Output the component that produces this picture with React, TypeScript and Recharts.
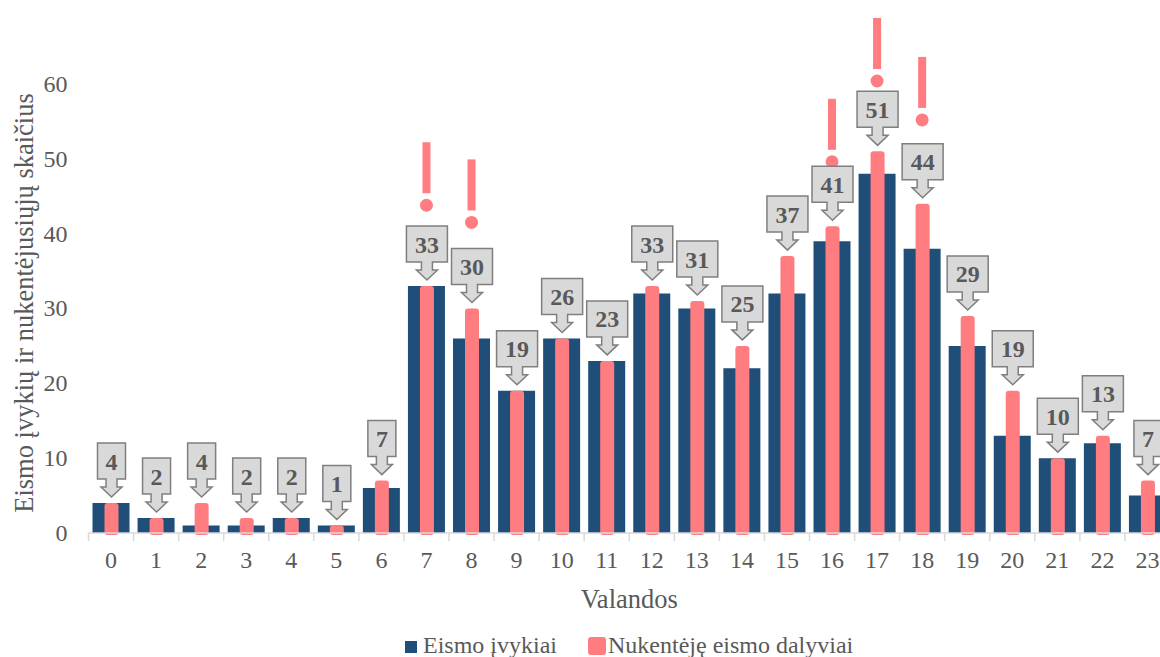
import React from 'react';
import { ComposedChart, Bar, Scatter, XAxis, YAxis, LabelList } from 'recharts';

const hours = ['0', '1', '2', '3', '4', '5', '6', '7', '8', '9', '10', '11', '12', '13', '14', '15', '16', '17', '18', '19', '20', '21', '22', '23'];
const accidents = [4, 2, 1, 1, 2, 1, 6, 33, 26, 19, 26, 23, 32, 30, 22, 32, 39, 48, 38, 25, 13, 10, 12, 5];
const injured = [4, 2, 4, 2, 2, 1, 7, 33, 30, 19, 26, 23, 33, 31, 25, 37, 41, 51, 44, 29, 19, 10, 13, 7];
// hours flagged with an exclamation mark, and the level (in axis units) of its dot
const alertHours = [7, 8, 16, 17, 18];
const alertLevels = [43.8, 41.5, 49.6, 60.4, 55.2];
const yTicks = [0, 10, 20, 30, 40, 50, 60];

const BLUE = '#1f4e79';
const PINK = '#ff7c80';
const GREY_TEXT = '#595959';
const FONT = '"Liberation Serif", "Times New Roman", serif';

const data = hours.map((h, i) => {
  const k = alertHours.indexOf(i);
  return {
    hour: h,
    accidents: accidents[i],
    injured: injured[i],
    alertLevel: k >= 0 ? alertLevels[k] : null,
  };
});

const PinkBar = (props: any) => {
  const { x, y, width, height } = props;
  if (height == null || isNaN(y)) return null;
  return <rect x={x} y={y} width={width} height={height + 2} rx={3} ry={3} fill={PINK} />;
};

const Callout = (props: any) => {
  const { x, y, width, value } = props;
  const cx = x + width / 2;
  const w = String(value).length > 1 ? 41 : 28;
  const tip = y - 6;
  const boxBottom = y - 24;
  const boxTop = boxBottom - 36;
  const shaftEnd = boxBottom + 8;
  const d = `M${cx - w / 2},${boxTop} H${cx + w / 2} V${boxBottom} H${cx + 5.5} V${shaftEnd} H${cx + 10.5} L${cx},${tip} L${cx - 10.5},${shaftEnd} H${cx - 5.5} V${boxBottom} H${cx - w / 2} Z`;
  return (
    <g>
      <path d={d} fill="#d9d9d9" stroke="#7f7f7f" strokeWidth={1.5} />
      <text x={cx} y={boxTop + 26.5} textAnchor="middle" style={{ fontFamily: FONT }} fontWeight="bold" fontSize={24} fill={GREY_TEXT}>
        {value}
      </text>
    </g>
  );
};

const Exclamation = (props: any) => {
  const { cx, cy, payload } = props;
  if (!payload || payload.alertLevel == null || isNaN(cy)) return <g />;
  return (
    <g>
      <rect x={cx - 4} y={cy - 63} width={8} height={51} fill={PINK} />
      <circle cx={cx} cy={cy} r={6.5} fill={PINK} />
    </g>
  );
};

const HourTick = (props: any) => {
  const { x, y, payload } = props;
  const half = payload && payload.offset ? payload.offset : 22.5;
  return (
    <g>
      <line x1={x - half} y1={y} x2={x - half} y2={y + 8} stroke="#d9d9d9" strokeWidth={1.5} />
      <text x={x} y={y + 35} textAnchor="middle" style={{ fontFamily: FONT }} fontSize={24} fill={GREY_TEXT}>
        {payload.value}
      </text>
    </g>
  );
};

const YTick = (props: any) => {
  const { x, y, payload } = props;
  return (
    <text x={x} y={y + 8} textAnchor="end" style={{ fontFamily: FONT }} fontSize={24} fill={GREY_TEXT}>
      {payload.value}
    </text>
  );
};

const YTitle = (props: any) => {
  const { viewBox } = props;
  const bx = 33;
  const cy = viewBox.y + viewBox.height / 2 - 4;
  return (
    <text x={bx} y={cy} transform={`rotate(-90, ${bx}, ${cy})`} textAnchor="middle" style={{ fontFamily: FONT }} fontSize={26.5} fill={GREY_TEXT}>
      Eismo įvykių ir nukentėjusiųjų skaičius
    </text>
  );
};

const XTitle = (props: any) => {
  const { viewBox } = props;
  return (
    <text x={viewBox.x + viewBox.width / 2} y={viewBox.y + 75} textAnchor="middle" style={{ fontFamily: FONT }} fontSize={26.5} fill={GREY_TEXT}>
      Valandos
    </text>
  );
};

export default function App() {
  return (
    <div style={{ position: 'absolute', left: 0, top: 0, width: 1160, height: 657, overflow: 'hidden', background: '#fff', fontFamily: FONT }}>
      <ComposedChart width={1180} height={657} data={data} margin={{ top: 81, right: 10, bottom: 0, left: 0 }}>
        <XAxis
          xAxisId="a"
          dataKey="hour"
          height={124}
          tickSize={0}
          tickMargin={0}
          tickLine={false}
          axisLine={{ stroke: '#d9d9d9', strokeWidth: 1.5 }}
          tick={<HourTick />}
          interval={0}
          label={<XTitle />}
        />
        <XAxis xAxisId="b" dataKey="hour" hide />
        <YAxis
          width={88.5}
          domain={[0, 60]}
          ticks={yTicks}
          tickSize={0}
          tickMargin={21}
          axisLine={false}
          tickLine={false}
          tick={<YTick />}
          label={<YTitle />}
        />
        <Bar xAxisId="a" dataKey="accidents" name="Eismo įvykiai" fill={BLUE} barSize={37} isAnimationActive={false} />
        <Bar xAxisId="b" dataKey="injured" name="Nukentėję eismo dalyviai" fill={PINK} barSize={14} shape={<PinkBar />} isAnimationActive={false}>
          <LabelList dataKey="injured" content={<Callout />} />
        </Bar>
        <Scatter xAxisId="b" dataKey="alertLevel" shape={<Exclamation />} isAnimationActive={false} />
      </ComposedChart>
      <div style={{ position: 'absolute', top: 633, left: 0, width: 1160, height: 24, fontSize: 24, lineHeight: '24px', color: GREY_TEXT }}>
        <div style={{ position: 'absolute', left: 405, top: 8, width: 12, height: 12, background: BLUE }} />
        <div style={{ position: 'absolute', left: 423, top: 0, whiteSpace: 'nowrap' }}>Eismo įvykiai</div>
        <div style={{ position: 'absolute', left: 588, top: 4, width: 18, height: 18, borderRadius: 3, background: PINK }} />
        <div style={{ position: 'absolute', left: 608, top: 0, whiteSpace: 'nowrap' }}>Nukentėję eismo dalyviai</div>
      </div>
    </div>
  );
}
